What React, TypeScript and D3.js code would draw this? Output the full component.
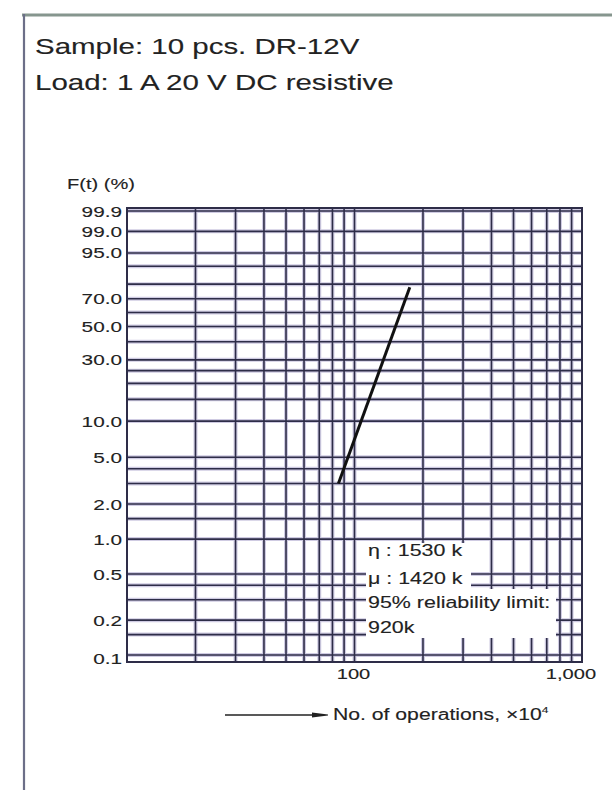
import React from "react";
import * as d3 from "d3";

// ---- data ----
const titleLines = ["Sample: 10 pcs. DR-12V", "Load: 1 A 20 V DC resistive"];
const yAxisTitle = "F(t) (%)";
const yGridValues = [0.1, 0.15, 0.2, 0.3, 0.4, 0.5, 1, 1.5, 2, 3, 4, 5, 10, 15, 20, 25, 30, 40, 50, 60, 70, 80, 90, 95, 99, 99.9];
const yTickValues = [99.9, 99.0, 95.0, 70.0, 50.0, 30.0, 10.0, 5.0, 2.0, 1.0, 0.5, 0.2, 0.1];
const yTickLabels = ["99.9", "99.0", "95.0", "70.0", "50.0", "30.0", "10.0", "5.0", "2.0", "1.0", "0.5", "0.2", "0.1"];
const xGridValues = [20, 30, 40, 50, 60, 70, 80, 90, 100, 200, 300, 400, 500, 600, 700, 800, 900];
const xTickValues = [100, 1000];
const xTickLabels = ["100", "1,000"];
const fitX = [85, 175]; // ×10^4 operations
const fitF = [3.0, 78.0]; // %
const infoLines = ["η : 1530 k", "μ : 1420 k", "95% reliability limit:", "920k"];
const xAxisTitle = "No. of operations, ×10";

const SX = 1.34;
const FONT = "'Liberation Sans', Arial, Helvetica, sans-serif";

const weib = (p: number) => Math.log(-Math.log(1 - p / 100));

export default function App() {
  const x = d3.scaleLog().domain([10, 1000]).range([127, 582]);
  const yLin = d3.scaleLinear().domain([weib(0.1), weib(99.9)]).range([655, 211]);
  const y = (p: number) => yLin(weib(p));
  const left = 127, right = 582, top = 208, bottom = 662;

  const gridColor = "#2e2d48";
  const haloColor = "#cfcbe2";

  const line = d3
    .line<number>()
    .x((_, i) => x(fitX[i]))
    .y((_, i) => y(fitF[i]));

  const T = (props: any) => {
    const { x: tx, y: ty, children, size = 15, anchor = "start", ...rest } = props;
    return (
      <text
        transform={`translate(${tx},${ty}) scale(${SX},1)`}
        fontSize={size}
        fontFamily={FONT}
        fill="#222"
        stroke="#222"
        strokeWidth={0.12}
        textAnchor={anchor}
        {...rest}
      >
        {children}
      </text>
    );
  };

  const infoY = [550, 578, 602, 627];

  return (
    <svg width={612} height={790} style={{ position: "absolute", left: 0, top: 0, background: "#fff" }}>
      {/* page border */}
      <line x1={22} y1={15} x2={612} y2={15} stroke="#86968e" strokeWidth={3} />
      <line x1={24} y1={14} x2={24} y2={790} stroke="#6c6f88" strokeWidth={2.2} />

      {titleLines.map((t, i) => (
        <T key={t} x={35} y={54 + i * 36} size={22}>
          {t}
        </T>
      ))}

      {/* grid halos */}
      <g stroke={haloColor} strokeWidth={4}>
        {yGridValues.map((v) => (
          <line key={"hh" + v} x1={left} x2={right} y1={y(v)} y2={y(v)} />
        ))}
        {xGridValues.map((v) => (
          <line key={"vh" + v} x1={x(v)} x2={x(v)} y1={top} y2={bottom} />
        ))}
      </g>
      <g stroke={gridColor} strokeWidth={1.6}>
        {yGridValues.map((v) => (
          <line key={"h" + v} x1={left} x2={right} y1={y(v)} y2={y(v)} />
        ))}
        {xGridValues.map((v) => (
          <line key={"v" + v} x1={x(v)} x2={x(v)} y1={top} y2={bottom} />
        ))}
      </g>

      {/* info box background */}
      <rect x={366} y={543} width={105} height={46} fill="#fff" />
      <rect x={366} y={589} width={190} height={49} fill="#fff" />

      {/* frame */}
      <rect x={left} y={top} width={right - left} height={bottom - top} fill="none" stroke={gridColor} strokeWidth={2} />

      {/* fitted line */}
      <path d={line(fitX) || ""} fill="none" stroke="#111" strokeWidth={3} />

      {/* y labels */}
      <T x={67} y={189} size={15}>
        {yAxisTitle}
      </T>
      {yTickValues.map((v, i) => (
        <T key={"yl" + v} x={122} y={y(v) + (v === 0.1 ? 9 : 5.5)} anchor="end" size={15.5}>
          {yTickLabels[i]}
        </T>
      ))}

      {/* x labels */}
      {xTickValues.map((v, i) => (
        <T key={"xl" + v} x={x(v) - (v === 1000 ? 11 : 1)} y={679} anchor="middle" size={15}>
          {xTickLabels[i]}
        </T>
      ))}

      {/* info text */}
      {infoLines.map((t, i) => (
        <T key={t} x={368} y={infoY[i] + 6} size={16}>
          {t}
        </T>
      ))}

      {/* x axis title with arrow */}
      <line x1={225} y1={715} x2={318} y2={715} stroke="#222" strokeWidth={1.5} />
      <path d="M312,712.5 L328,714.5 L328,715.5 L312,717.5 Z" fill="#222" />
      <T x={333} y={720} size={15.8}>
        {xAxisTitle}
        <tspan fontSize={9} dy={-7}>
          4
        </tspan>
      </T>
    </svg>
  );
}
